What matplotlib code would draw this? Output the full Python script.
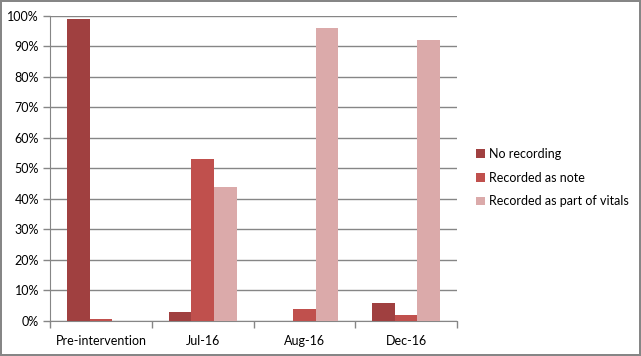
import matplotlib
matplotlib.use("Agg")
import matplotlib.pyplot as plt
import numpy as np
from matplotlib.ticker import PercentFormatter

categories = ["Pre-intervention", "Jul-16", "Aug-16", "Dec-16"]
no_recording = [99, 3, 0, 6]
recorded_note = [0.7, 53, 4, 2]
recorded_vitals = [0, 44, 96, 92]
series_names = ["No recording", "Recorded as note", "Recorded as part of vitals"]
colors = ["#A04040", "#C0504D", "#DBAAAA"]

plt.rcParams['font.family'] = ['Lato', 'DejaVu Sans']

fig = plt.figure(figsize=(6.41, 3.56), dpi=100)
fig.patch.set_edgecolor("#868686")
fig.patch.set_linewidth(1.5)
ax = fig.add_axes([0.078, 0.0983, 0.635, 0.857])

x = np.arange(len(categories))
w = 0.222
for i, (vals, name) in enumerate(zip([no_recording, recorded_note, recorded_vitals], series_names)):
    ax.bar(x + (i - 1) * w, vals, width=w, color=colors[i], label=name, zorder=3)

ax.set_xlim(-0.5, len(categories) - 0.5)
ax.set_ylim(0, 100)
ax.set_yticks(np.arange(0, 101, 10))
ax.yaxis.set_major_formatter(PercentFormatter(decimals=0))
ax.yaxis.grid(True, color="#868686", linewidth=1, zorder=0)

ax.set_xticks(x)
ax.set_xticklabels(categories)
ax.set_xticks(np.arange(-0.5, len(categories)), minor=True)
ax.tick_params(axis="x", which="major", length=0, pad=10, labelsize=9)
ax.tick_params(axis="x", which="minor", length=5, color="#868686", width=1)
ax.tick_params(axis="y", length=5, color="#868686", width=1, labelsize=9, pad=3)

for s in ["top", "right"]:
    ax.spines[s].set_visible(False)
for s in ["left", "bottom"]:
    ax.spines[s].set_color("#868686")

ax.legend(loc="center left", bbox_to_anchor=(1.02, 0.47), frameon=False,
          fontsize=9, handlelength=0.7, handleheight=0.7, handletextpad=0.3,
          labelspacing=0.95)

fig.savefig("out.png", dpi=100)
